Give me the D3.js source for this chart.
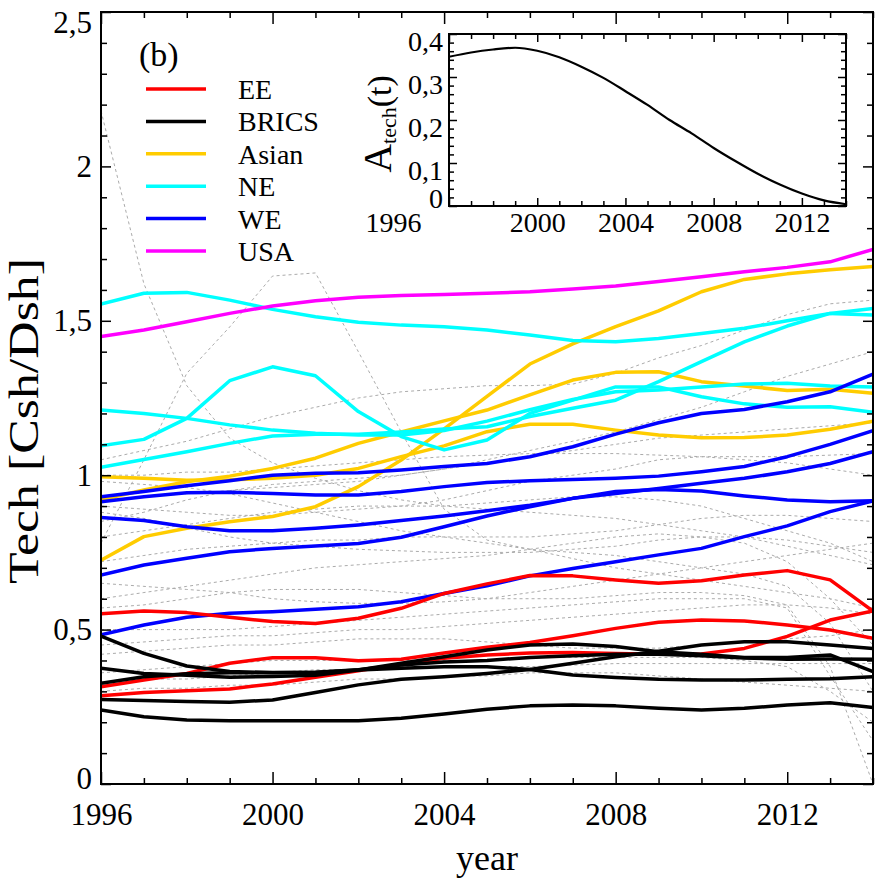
<!DOCTYPE html>
<html>
<head>
<meta charset="utf-8">
<script src="https://cdn.jsdelivr.net/npm/d3@7/dist/d3.min.js"></script>
<style>
  body { margin: 0; background: #fff; }
  svg { display: block; font-family: "Liberation Serif", "DejaVu Serif", serif; }
  svg text { font-family: "Liberation Serif", "DejaVu Serif", serif; }
</style>
</head>
<body>
<svg id="chart" width="886" height="886"></svg>
<script>
const years = [1996, 1997, 1998, 1999, 2000, 2001, 2002, 2003, 2004, 2005, 2006, 2007, 2008, 2009, 2010, 2011, 2012, 2013, 2014];

const xMajor = [1996, 2000, 2004, 2008, 2012];
const xMajorLabels = ["1996", "2000", "2004", "2008", "2012"];
const yMajor = [0, 0.5, 1, 1.5, 2, 2.5];
const yMajorLabels = ["0", "0,5", "1", "1,5", "2", "2,5"];
const insetYMajor = [0, 0.1, 0.2, 0.3, 0.4];
const insetYLabels = ["0", "0,1", "0,2", "0,3", "0,4"];

// EE (red)
const eeSeries = [
  [0.551, 0.560, 0.555, 0.540, 0.526, 0.520, 0.537, 0.569, 0.617, 0.648, 0.675, 0.674, 0.661, 0.650, 0.658, 0.677, 0.691, 0.661, 0.560],
  [0.315, 0.337, 0.358, 0.391, 0.409, 0.409, 0.399, 0.404, 0.424, 0.443, 0.458, 0.480, 0.504, 0.524, 0.531, 0.528, 0.515, 0.499, 0.472],
  [0.286, 0.296, 0.302, 0.308, 0.324, 0.346, 0.367, 0.389, 0.407, 0.418, 0.424, 0.426, 0.423, 0.420, 0.421, 0.439, 0.478, 0.531, 0.560]
];
// BRICS (black)
const bricsSeries = [
  [0.479, 0.423, 0.382, 0.364, 0.361, 0.361, 0.369, 0.375, 0.380, 0.380, 0.371, 0.353, 0.345, 0.339, 0.337, 0.337, 0.339, 0.341, 0.347],
  [0.375, 0.358, 0.352, 0.346, 0.348, 0.352, 0.369, 0.391, 0.412, 0.434, 0.450, 0.453, 0.445, 0.428, 0.420, 0.410, 0.410, 0.418, 0.364],
  [0.326, 0.347, 0.357, 0.360, 0.360, 0.362, 0.370, 0.385, 0.395, 0.400, 0.410, 0.415, 0.420, 0.420, 0.415, 0.408, 0.404, 0.405, 0.404],
  [0.274, 0.270, 0.267, 0.265, 0.272, 0.296, 0.321, 0.339, 0.347, 0.358, 0.371, 0.391, 0.412, 0.430, 0.450, 0.461, 0.461, 0.450, 0.439],
  [0.240, 0.218, 0.207, 0.205, 0.205, 0.205, 0.205, 0.213, 0.227, 0.242, 0.253, 0.256, 0.253, 0.245, 0.240, 0.245, 0.256, 0.263, 0.248]
];
// Asian (gold)
const asianSeries = [
  [0.995, 0.990, 0.984, 0.985, 0.990, 1.000, 1.022, 1.060, 1.095, 1.141, 1.165, 1.165, 1.146, 1.130, 1.121, 1.122, 1.130, 1.149, 1.175],
  [0.920, 0.952, 0.979, 0.997, 1.022, 1.055, 1.103, 1.140, 1.176, 1.211, 1.260, 1.308, 1.333, 1.335, 1.303, 1.289, 1.274, 1.278, 1.265],
  [0.725, 0.801, 0.828, 0.849, 0.866, 0.898, 0.963, 1.049, 1.150, 1.255, 1.360, 1.425, 1.481, 1.532, 1.594, 1.634, 1.652, 1.665, 1.676]
];
// NE (cyan)
const neSeries = [
  [1.554, 1.589, 1.592, 1.567, 1.537, 1.513, 1.495, 1.486, 1.481, 1.470, 1.454, 1.436, 1.432, 1.443, 1.459, 1.476, 1.500, 1.524, 1.519],
  [1.211, 1.200, 1.184, 1.163, 1.146, 1.136, 1.130, 1.130, 1.145, 1.175, 1.212, 1.245, 1.270, 1.276, 1.286, 1.295, 1.298, 1.289, 1.286],
  [1.095, 1.116, 1.184, 1.306, 1.351, 1.322, 1.206, 1.125, 1.082, 1.114, 1.200, 1.243, 1.286, 1.286, 1.254, 1.231, 1.220, 1.222, 1.204],
  [1.026, 1.051, 1.076, 1.103, 1.127, 1.133, 1.133, 1.140, 1.150, 1.157, 1.190, 1.217, 1.243, 1.303, 1.368, 1.432, 1.483, 1.524, 1.540]
];
// WE (blue)
const weSeries = [
  [0.930, 0.947, 0.966, 0.982, 1.000, 1.006, 1.008, 1.017, 1.028, 1.038, 1.060, 1.092, 1.133, 1.170, 1.200, 1.213, 1.238, 1.270, 1.327],
  [0.914, 0.930, 0.943, 0.945, 0.941, 0.936, 0.936, 0.947, 0.963, 0.976, 0.982, 0.986, 0.990, 0.997, 1.011, 1.028, 1.060, 1.100, 1.144],
  [0.863, 0.853, 0.833, 0.820, 0.820, 0.828, 0.839, 0.853, 0.868, 0.885, 0.903, 0.925, 0.941, 0.957, 0.974, 0.990, 1.011, 1.038, 1.076],
  [0.677, 0.709, 0.731, 0.752, 0.763, 0.771, 0.779, 0.799, 0.833, 0.868, 0.898, 0.925, 0.947, 0.954, 0.949, 0.933, 0.920, 0.914, 0.917],
  [0.483, 0.515, 0.540, 0.553, 0.558, 0.566, 0.574, 0.590, 0.617, 0.642, 0.674, 0.698, 0.720, 0.742, 0.763, 0.801, 0.836, 0.882, 0.917]
];
// USA (magenta)
const usaSeries = [
  [1.449, 1.470, 1.497, 1.524, 1.548, 1.565, 1.576, 1.582, 1.585, 1.589, 1.594, 1.603, 1.613, 1.627, 1.643, 1.659, 1.673, 1.691, 1.731]
];
// other countries (grey dashed)
const otherSeries = [
  [2.180, 1.620, 1.290, 1.120, 1.040, 0.990, 0.950, 0.920, 0.900, 0.890, 0.880, 0.870, 0.860, 0.840, 0.820, 0.800, 0.770, 0.740, 0.710],
  [0.780, 1.050, 1.330, 1.480, 1.645, 1.655, 1.400, 1.140, 0.890, 0.790, 0.760, 0.750, 0.740, 0.720, 0.700, 0.680, 0.640, 0.520, 0.300],
  [1.050, 1.080, 1.110, 1.150, 1.190, 1.220, 1.250, 1.270, 1.280, 1.290, 1.290, 1.295, 1.330, 1.380, 1.420, 1.470, 1.520, 1.555, 1.567],
  [0.920, 0.930, 0.940, 0.950, 0.960, 0.970, 0.980, 1.000, 1.020, 1.050, 1.080, 1.110, 1.140, 1.180, 1.220, 1.270, 1.320, 1.360, 1.400],
  [1.000, 1.000, 1.010, 1.010, 1.020, 1.030, 1.040, 1.050, 1.060, 1.065, 1.070, 1.070, 1.070, 1.065, 1.060, 1.050, 1.040, 1.020, 1.000],
  [0.900, 0.890, 0.880, 0.870, 0.870, 0.880, 0.890, 0.900, 0.920, 0.950, 0.980, 1.000, 1.020, 1.050, 1.060, 1.060, 1.060, 1.065, 1.070],
  [0.800, 0.820, 0.840, 0.860, 0.880, 0.890, 0.900, 0.900, 0.900, 0.910, 0.920, 0.930, 0.930, 0.920, 0.900, 0.860, 0.820, 0.780, 0.720],
  [0.720, 0.740, 0.760, 0.770, 0.780, 0.790, 0.790, 0.800, 0.800, 0.800, 0.800, 0.810, 0.820, 0.840, 0.860, 0.870, 0.870, 0.860, 0.850],
  [0.880, 0.860, 0.830, 0.800, 0.780, 0.770, 0.760, 0.755, 0.750, 0.750, 0.750, 0.760, 0.770, 0.790, 0.800, 0.800, 0.790, 0.770, 0.750],
  [0.600, 0.620, 0.640, 0.660, 0.680, 0.700, 0.710, 0.720, 0.730, 0.740, 0.760, 0.780, 0.800, 0.810, 0.800, 0.780, 0.720, 0.600, 0.450],
  [0.650, 0.640, 0.630, 0.620, 0.600, 0.590, 0.585, 0.585, 0.590, 0.600, 0.620, 0.640, 0.660, 0.680, 0.700, 0.720, 0.740, 0.760, 0.780],
  [0.570, 0.580, 0.600, 0.620, 0.630, 0.630, 0.630, 0.620, 0.610, 0.600, 0.600, 0.600, 0.610, 0.620, 0.620, 0.610, 0.580, 0.380, 0.000],
  [0.500, 0.500, 0.500, 0.500, 0.510, 0.520, 0.530, 0.540, 0.550, 0.560, 0.570, 0.580, 0.590, 0.600, 0.600, 0.600, 0.570, 0.350, 0.140],
  [0.450, 0.460, 0.470, 0.480, 0.480, 0.490, 0.500, 0.500, 0.510, 0.520, 0.530, 0.540, 0.550, 0.560, 0.570, 0.580, 0.580, 0.570, 0.550],
  [0.420, 0.430, 0.440, 0.450, 0.450, 0.460, 0.470, 0.470, 0.470, 0.460, 0.450, 0.440, 0.440, 0.440, 0.450, 0.460, 0.470, 0.480, 0.500],
  [0.360, 0.370, 0.380, 0.390, 0.400, 0.400, 0.400, 0.400, 0.400, 0.400, 0.410, 0.410, 0.410, 0.410, 0.410, 0.400, 0.380, 0.300, 0.200],
  [0.330, 0.340, 0.340, 0.350, 0.360, 0.370, 0.370, 0.380, 0.380, 0.380, 0.380, 0.385, 0.390, 0.390, 0.390, 0.390, 0.390, 0.390, 0.390],
  [0.300, 0.310, 0.310, 0.320, 0.320, 0.330, 0.340, 0.340, 0.350, 0.350, 0.360, 0.360, 0.360, 0.350, 0.340, 0.330, 0.320, 0.310, 0.300],
  [0.980, 0.970, 0.960, 0.940, 0.910, 0.880, 0.850, 0.820, 0.800, 0.780, 0.760, 0.730, 0.700, 0.680, 0.660, 0.640, 0.620, 0.600, 0.570],
  [0.850, 0.880, 0.920, 0.950, 0.970, 0.980, 0.990, 1.000, 1.020, 1.040, 1.060, 1.080, 1.100, 1.120, 1.130, 1.140, 1.150, 1.160, 1.170]
];

// inset: A_tech(t)
const aTech = [0.347, 0.357, 0.364, 0.368, 0.361, 0.346, 0.324, 0.298, 0.267, 0.235, 0.200, 0.169, 0.135, 0.104, 0.075, 0.050, 0.029, 0.013, 0.004];

const groupNames = ["EE", "BRICS", "Asian", "NE", "WE", "USA"];
const groupColors = ["#ff0000", "#000000", "#ffcc00", "#00ffff", "#0000ff", "#ff00ff"];
const groupSeries = [eeSeries, bricsSeries, asianSeries, neSeries, weSeries, usaSeries];
const drawOrder = [2, 3, 4, 0, 1, 5];

const svg = d3.select("#chart");
const margin = { top: 12, right: 13, bottom: 102, left: 101 };
const width = 886 - margin.left - margin.right;
const height = 886 - margin.top - margin.bottom;

const x = d3.scaleLinear().domain([1996, 2014]).range([margin.left, margin.left + width]);
const y = d3.scaleLinear().domain([0, 2.5]).range([margin.top + height, margin.top]);

svg.append("defs").append("clipPath").attr("id", "plot-clip")
  .append("rect")
  .attr("x", margin.left).attr("y", margin.top)
  .attr("width", width).attr("height", height);

const line = d3.line()
  .x((d, i) => x(years[i]))
  .y(d => y(d));

const plot = svg.append("g").attr("clip-path", "url(#plot-clip)");

plot.selectAll(".other")
  .data(otherSeries)
  .enter()
  .append("path")
  .attr("class", "other")
  .attr("d", line)
  .attr("fill", "none")
  .attr("stroke", "#ababab")
  .attr("stroke-width", 1)
  .attr("stroke-dasharray", "3,3");

drawOrder.forEach(g => {
  plot.selectAll(".grp" + g)
    .data(groupSeries[g])
    .enter()
    .append("path")
    .attr("class", "grp" + g)
    .attr("d", line)
    .attr("fill", "none")
    .attr("stroke", groupColors[g])
    .attr("stroke-width", 3.5)
    .attr("stroke-linejoin", "round");
});

// axes, ticks pointing inward on all four sides
const minorYears = years.filter(v => !xMajor.includes(v));
const minorY = d3.range(1, 25).map(i => i / 10).filter(v => !yMajor.includes(Math.round(v * 10) / 10));

function styleAxis(sel) {
  sel.attr("font-family", null).attr("font-size", null);
  sel.select(".domain").remove();
  sel.selectAll("line").attr("stroke", "#000").attr("stroke-width", 1.5);
  sel.selectAll("text").attr("fill", "#000");
}

svg.append("g")
  .attr("transform", `translate(0,${margin.top + height})`)
  .call(d3.axisBottom(x).tickValues(xMajor).tickSize(-12).tickPadding(19)
    .tickFormat((d, i) => xMajorLabels[i]))
  .call(styleAxis)
  .call(g => g.selectAll("text").attr("font-size", 31));

svg.append("g")
  .attr("transform", `translate(0,${margin.top + height})`)
  .call(d3.axisBottom(x).tickValues(minorYears).tickSize(-6).tickFormat(""))
  .call(styleAxis);

svg.append("g")
  .attr("transform", `translate(0,${margin.top})`)
  .call(d3.axisTop(x).tickValues(xMajor).tickSize(-12).tickFormat(""))
  .call(styleAxis);

svg.append("g")
  .attr("transform", `translate(0,${margin.top})`)
  .call(d3.axisTop(x).tickValues(minorYears).tickSize(-6).tickFormat(""))
  .call(styleAxis);

svg.append("g")
  .attr("transform", `translate(${margin.left},0)`)
  .call(d3.axisLeft(y).tickValues(yMajor).tickSize(-10).tickPadding(9)
    .tickFormat((d, i) => yMajorLabels[i]))
  .call(styleAxis)
  .call(g => g.selectAll("text").attr("font-size", 31))
  .call(g => g.selectAll(".tick").filter(d => d === 2.5).select("text").attr("dy", "0.65em"))
  .call(g => g.selectAll(".tick").filter(d => d === 0).select("text").attr("dy", "0.16em"));

svg.append("g")
  .attr("transform", `translate(${margin.left},0)`)
  .call(d3.axisLeft(y).tickValues(minorY).tickSize(-6).tickFormat(""))
  .call(styleAxis);

svg.append("g")
  .attr("transform", `translate(${margin.left + width},0)`)
  .call(d3.axisRight(y).tickValues(yMajor).tickSize(-10).tickFormat(""))
  .call(styleAxis);

svg.append("g")
  .attr("transform", `translate(${margin.left + width},0)`)
  .call(d3.axisRight(y).tickValues(minorY).tickSize(-6).tickFormat(""))
  .call(styleAxis);

svg.append("rect")
  .attr("x", margin.left).attr("y", margin.top)
  .attr("width", width).attr("height", height)
  .attr("fill", "none").attr("stroke", "#000").attr("stroke-width", 2);

// axis titles
svg.append("text")
  .attr("x", margin.left + width / 2).attr("y", 870)
  .attr("text-anchor", "middle")
  .attr("font-size", 36)
  .text("year");

svg.append("text")
  .attr("transform", "translate(38,421) rotate(-90)")
  .attr("text-anchor", "middle")
  .attr("font-size", 42)
  .attr("textLength", 326)
  .attr("lengthAdjust", "spacingAndGlyphs")
  .text("Tech [Csh/Dsh]");

// panel tag and legend
svg.append("text")
  .attr("x", 139).attr("y", 66)
  .attr("font-size", 34)
  .text("(b)");

const legend = svg.append("g");
groupNames.forEach((name, i) => {
  const ly = 89 + i * 32.4;
  legend.append("line")
    .attr("x1", 146).attr("x2", 206)
    .attr("y1", ly).attr("y2", ly)
    .attr("stroke", groupColors[i]).attr("stroke-width", 3.5);
  legend.append("text")
    .attr("x", 238).attr("y", ly + 10)
    .attr("font-size", 28)
    .text(name);
});

// inset
const inset = { left: 449, right: 846, top: 34, bottom: 206 };
const xi = d3.scaleLinear().domain([1996, 2014]).range([inset.left, inset.right]);
const yi = d3.scaleLinear().domain([0, 0.4]).range([inset.bottom, inset.top]);
const insetMinorY = d3.range(1, 20).map(i => i / 50).filter(v => Math.round(v * 50) % 5 !== 0);

svg.append("rect")
  .attr("x", inset.left).attr("y", inset.top)
  .attr("width", inset.right - inset.left).attr("height", inset.bottom - inset.top)
  .attr("fill", "#fff");

svg.append("path")
  .datum(aTech)
  .attr("d", d3.line().x((d, i) => xi(years[i])).y(d => yi(d)).curve(d3.curveMonotoneX))
  .attr("fill", "none")
  .attr("stroke", "#000")
  .attr("stroke-width", 2.2);

svg.append("g")
  .attr("transform", `translate(0,${inset.bottom})`)
  .call(d3.axisBottom(xi).tickValues(xMajor).tickSize(-8).tickPadding(6)
    .tickFormat((d, i) => xMajorLabels[i]))
  .call(styleAxis)
  .call(g => g.selectAll("text").attr("font-size", 28))
  .call(g => g.selectAll(".tick").filter(d => d === 1996).select("text")
    .attr("text-anchor", "end").attr("x", -28));

svg.append("g")
  .attr("transform", `translate(0,${inset.bottom})`)
  .call(d3.axisBottom(xi).tickValues(minorYears).tickSize(-5).tickFormat(""))
  .call(styleAxis);

svg.append("g")
  .attr("transform", `translate(0,${inset.top})`)
  .call(d3.axisTop(xi).tickValues(xMajor).tickSize(-8).tickFormat(""))
  .call(styleAxis);

svg.append("g")
  .attr("transform", `translate(0,${inset.top})`)
  .call(d3.axisTop(xi).tickValues(minorYears).tickSize(-5).tickFormat(""))
  .call(styleAxis);

svg.append("g")
  .attr("transform", `translate(${inset.left},0)`)
  .call(d3.axisLeft(yi).tickValues(insetYMajor).tickSize(-8).tickPadding(6)
    .tickFormat((d, i) => insetYLabels[i]))
  .call(styleAxis)
  .call(g => g.selectAll("text").attr("font-size", 28).attr("dy", "0.58em"))
  .call(g => g.selectAll(".tick").filter(d => d === 0).select("text").attr("dy", "0.05em"));

svg.append("g")
  .attr("transform", `translate(${inset.left},0)`)
  .call(d3.axisLeft(yi).tickValues(insetMinorY).tickSize(-5).tickFormat(""))
  .call(styleAxis);

svg.append("g")
  .attr("transform", `translate(${inset.right},0)`)
  .call(d3.axisRight(yi).tickValues(insetYMajor).tickSize(-8).tickFormat(""))
  .call(styleAxis);

svg.append("g")
  .attr("transform", `translate(${inset.right},0)`)
  .call(d3.axisRight(yi).tickValues(insetMinorY).tickSize(-5).tickFormat(""))
  .call(styleAxis);

svg.append("rect")
  .attr("x", inset.left).attr("y", inset.top)
  .attr("width", inset.right - inset.left).attr("height", inset.bottom - inset.top)
  .attr("fill", "none").attr("stroke", "#000").attr("stroke-width", 2);

const aLabel = svg.append("text")
  .attr("transform", "translate(391,124) rotate(-90)")
  .attr("text-anchor", "middle");
aLabel.append("tspan").attr("font-size", 40).text("A");
aLabel.append("tspan").attr("font-size", 22).attr("dy", 5).text("tech");
aLabel.append("tspan").attr("font-size", 34).attr("dy", -5).text("(t)");
</script>
</body>
</html>
